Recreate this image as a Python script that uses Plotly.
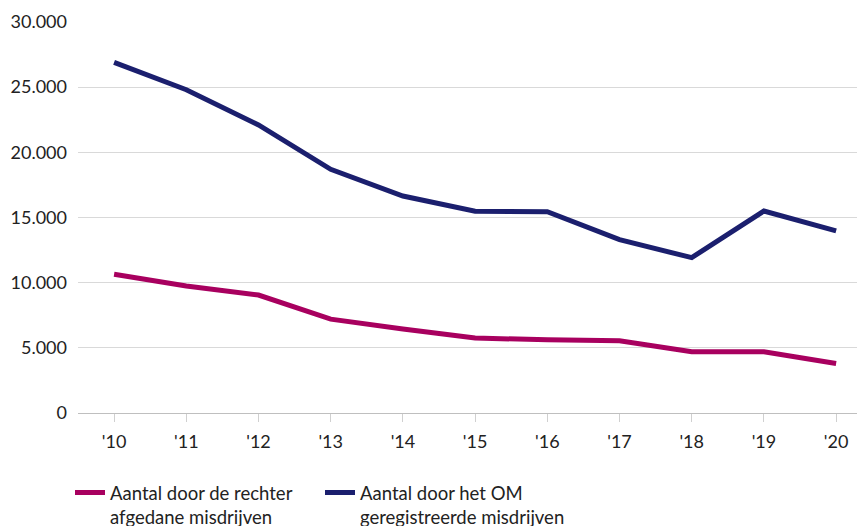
import plotly.graph_objects as go

years = ["'10", "'11", "'12", "'13", "'14", "'15", "'16", "'17", "'18", "'19", "'20"]
rechter = [10650, 9750, 9050, 7200, 6450, 5750, 5620, 5540, 4700, 4700, 3800]
om = [26900, 24800, 22100, 18700, 16650, 15480, 15450, 13300, 11920, 15500, 13970]
ytick_vals = [0, 5000, 10000, 15000, 20000, 25000, 30000]
ytick_text = ["0", "5.000", "10.000", "15.000", "20.000", "25.000", "30.000"]
names = ["Aantal door de rechter<br>afgedane misdrijven", "Aantal door het OM<br>geregistreerde misdrijven"]

MAGENTA = "#a8005f"
NAVY = "#1b1f6e"
FONT = "Lato, sans-serif"

# page body has an 8px margin; figure is sized to fill the remaining window
W, H = 857, 518

fig = go.Figure()
fig.add_trace(go.Scatter(x=years, y=rechter, mode="lines", name=names[0],
                         line=dict(color=MAGENTA, width=5)))
fig.add_trace(go.Scatter(x=years, y=om, mode="lines", name=names[1],
                         line=dict(color=NAVY, width=5)))

fig.update_layout(
    width=W, height=H,
    margin=dict(l=70, r=0, t=14, b=113, autoexpand=False),
    paper_bgcolor="white", plot_bgcolor="white",
    showlegend=True,
    legend=dict(orientation="h", xref="container", yref="container",
                x=62 / W, xanchor="left", y=1 - 466 / H, yanchor="top",
                valign="top", entrywidth=205, entrywidthmode="pixels",
                font=dict(family=FONT, size=18.5, color="#222222"),
                itemwidth=30, tracegroupgap=0),
    xaxis=dict(type="category", range=[-0.5, 10.4], showgrid=False, automargin=False,
               showline=True, linecolor="#bfbfbf", linewidth=1,
               ticks="outside", ticklen=8, tickcolor="#d0d0d0", tickwidth=1,
               ticklabelstandoff=4,
               tickfont=dict(family=FONT, size=18, color="#222222")),
    yaxis=dict(range=[0, 30000], tickvals=ytick_vals, ticktext=ytick_text, automargin=False,
               showgrid=True, gridcolor="#d9d9d9", gridwidth=1, zeroline=False,
               showline=False, ticks="", ticklabelstandoff=10,
               tickfont=dict(family=FONT, size=18, color="#222222")),
)

fig.write_html("out.html")
